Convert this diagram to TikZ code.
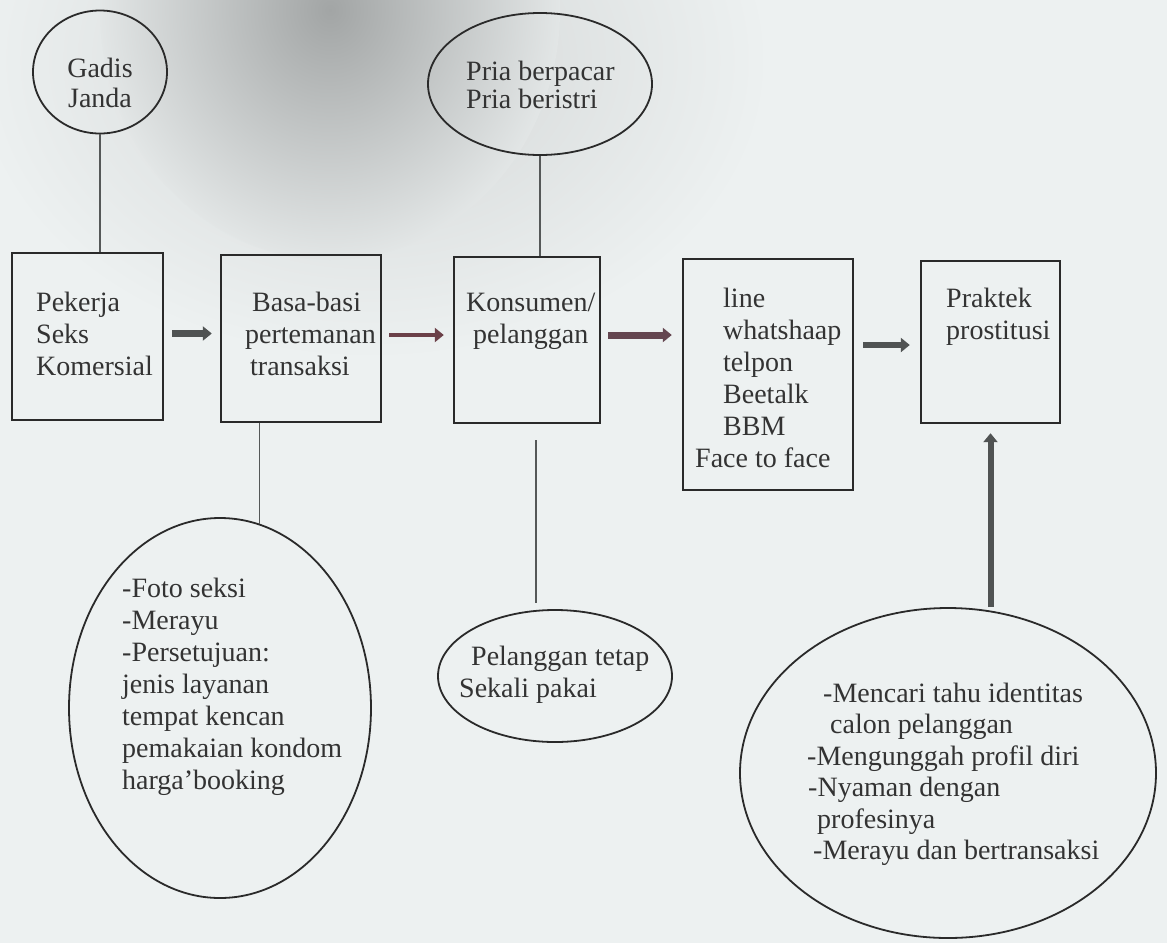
\documentclass[tikz,border=0pt]{standalone}
\usepackage{fontspec}
\setmainfont{Liberation Serif}
\usetikzlibrary{shapes.geometric,arrows.meta,calc}
\definecolor{bgc}{HTML}{EDF1F1}
\definecolor{shadowc}{HTML}{A2A5A5}
\definecolor{shadowl}{HTML}{D2D5D5}
\definecolor{ink}{HTML}{333333}
\definecolor{edgec}{HTML}{2A2A2A}
\definecolor{linkc}{HTML}{555858}
\definecolor{arrgray}{HTML}{505353}
\definecolor{arrred}{HTML}{6B4048}
\definecolor{arrmauve}{HTML}{654650}
\begin{document}
\begin{tikzpicture}[x=1pt,y=-1pt,
  box/.style={draw=edgec, line width=2.4pt, rectangle, inner sep=0pt},
  oval/.style={draw=edgec, line width=1.8pt, ellipse, inner sep=0pt},
  txt/.style={inner sep=0pt, anchor=north west, align=left, text=ink,
              font=\fontsize{28}{32}\selectfont},
  ctxt/.style={inner sep=0pt, anchor=north, align=center, text=ink,
              font=\fontsize{28}{30}\selectfont},
  link/.style={draw=linkc, line width=1.2pt},
  fat/.style={line width=6pt, -{Triangle[length=9pt,width=14pt]}},
]
\useasboundingbox (0,0) rectangle (1167,943);
\fill[bgc] (0,0) rectangle (1167,943);
\shade[inner color=shadowl, outer color=bgc] (370,60) ellipse [x radius=400, y radius=300];
\shade[inner color=shadowc, outer color=shadowl!40!bgc] (330,10) ellipse [x radius=230, y radius=250];

% ovals
\node[oval, minimum width=134pt, minimum height=123pt] (gadis) at (100,72) {};
\node[oval, minimum width=224pt, minimum height=142pt] (pria) at (540,84) {};
\node[oval, minimum width=302pt, minimum height=380pt] (foto) at (220,708) {};
\node[oval, minimum width=234pt, minimum height=132pt] (pel) at (555,676) {};
\node[oval, minimum width=416pt, minimum height=330pt] (nyaman) at (948,773) {};

% boxes
\node[box, minimum width=151pt, minimum height=167pt] (b1) at (87.5,336.5) {};
\node[box, minimum width=160pt, minimum height=167pt] (b2) at (301,338.5) {};
\node[box, minimum width=146pt, minimum height=166pt] (b3) at (527,340) {};
\node[box, minimum width=170pt, minimum height=231pt] (b4) at (768,374.5) {};
\node[box, minimum width=139pt, minimum height=162pt] (b5) at (990.5,342) {};

% texts
\node[ctxt] (gadist) at (100,56) {\strut Gadis\\Janda};
\node[txt, font=\fontsize{28}{28}\selectfont] (priat) at (466,60.4) {\strut Pria berpacar\\Pria beristri};
\node[txt] (b1t) at (36,288.6) {\strut Pekerja\\Seks\\Komersial};
\node[txt] (b2t) at (245,288.6) {\strut\hspace*{7pt}Basa-basi\\pertemanan\\\hspace*{5pt}transaksi};
\node[txt] (b3t) at (466,288.6) {\strut Konsumen/\\\hspace*{7pt}pelanggan};
\node[txt] (b4t) at (695,284.6) {\strut\hspace*{28pt}line\\\hspace*{28pt}whatshaap\\\hspace*{28pt}telpon\\\hspace*{28pt}Beetalk\\\hspace*{28pt}BBM\\Face to face};
\node[txt] (b5t) at (946,284.6) {\strut Praktek\\prostitusi};
\node[txt] (fotot) at (122,574.6) {\strut -Foto seksi\\-Merayu\\-Persetujuan:\\jenis layanan\\tempat kencan\\pemakaian kondom\\harga'booking};
\node[txt] (pelt) at (459,642.6) {\strut\hspace*{12pt}Pelanggan tetap\\Sekali pakai};
\node[txt, font=\fontsize{28}{31.5}\selectfont] (nyat) at (807,680) {\strut\hspace*{16pt}-Mencari tahu identitas\\\hspace*{23pt}calon pelanggan\\-Mengunggah profil diri\\\hspace*{1pt}-Nyaman dengan\\\hspace*{10pt}profesinya\\\hspace*{6pt}-Merayu dan bertransaksi};

% thin connectors
\draw[link] (gadis.south) -- (gadis.south |- b1.north);
\draw[link] (pria.south) -- (pria.south |- b3.north);
\draw[link] (foto.78 |- b2.south) -- (foto.78);
\coordinate (l4a) at (536,440);
\coordinate (l4b) at (536,603);
\draw[link] (l4a) -- (l4b);

% thick arrows
\draw[fat, color=arrgray, line width=6.5pt] ($(b1.east)+(8pt,3pt)$) -- ($(b1.east -| b2.west)+(-8pt,3pt)$);
\draw[fat, color=arrred, line width=4.5pt] ($(b2.east)+(7pt,3.5pt)$) -- ($(b2.east -| b3.west)+(-9pt,3.5pt)$);
\draw[fat, color=arrmauve, line width=7pt] ($(b3.east)+(7pt,5pt)$) -- ($(b3.east -| b4.west)+(-10pt,5pt)$);
\draw[fat, color=arrgray] ($(b5.west -| b4.east)+(9pt,-3pt)$) -- ($(b5.west)+(-10pt,-3pt)$);
\draw[fat, color=arrgray] (nyaman.north -| b5.south) -- ($(b5.south)+(0pt,-9pt)$);
\end{tikzpicture}
\end{document}
